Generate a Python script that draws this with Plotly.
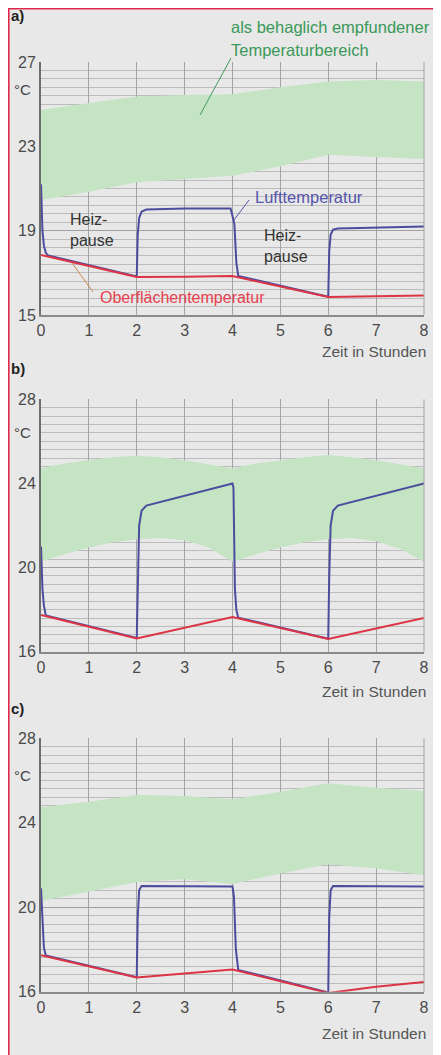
import plotly.graph_objects as go

# The page body has an 8px default margin, so the figure is drawn at (8, 8)
# inside the 441x1055 window.
OFF = 8
W, H = 441 - OFF, 1055 - OFF

# ---------------- data ----------------
band_hours = [0, 1, 2, 3, 4, 5, 6, 7, 8]
band_a_upper = [24.73, 25.04, 25.36, 25.44, 25.47, 25.80, 26.07, 26.15, 26.07]
band_a_lower = [20.45, 20.85, 21.30, 21.45, 21.60, 22.05, 22.60, 22.50, 22.40]

band_b_hours = [0, 0.5, 1, 1.5, 2, 2.5, 3, 3.5, 4, 4.5, 5, 5.5, 6, 6.5, 7, 7.5, 8]
band_b_upper = [24.72, 24.95, 25.11, 25.25, 25.32, 25.25, 25.10, 24.90, 24.72,
                24.95, 25.10, 25.25, 25.35, 25.25, 25.10, 24.90, 24.72]
band_b_lower = [20.28, 20.65, 20.95, 21.20, 21.35, 21.40, 21.30, 20.95, 20.28,
                20.65, 20.95, 21.20, 21.35, 21.40, 21.25, 20.90, 20.28]

band_c_upper = [24.73, 25.00, 25.31, 25.27, 25.11, 25.47, 25.87, 25.66, 25.50]
band_c_lower = [20.30, 20.73, 21.20, 21.32, 21.10, 21.60, 22.04, 21.84, 21.52]

air_a_hours = [0, 0.03, 0.06, 0.10, 0.15, 2.0, 2.02, 2.05, 2.10, 2.20, 3.0, 3.96,
               4.0, 4.04, 4.08, 4.12, 6.0, 6.02, 6.05, 6.10, 6.20, 7.0, 8.0]
air_a_temp = [21.2, 19.0, 18.3, 17.95, 17.82, 16.83, 18.8, 19.6, 19.9, 20.0, 20.05, 20.05,
              19.7, 19.3, 17.5, 16.85, 15.87, 18.0, 18.8, 19.05, 19.10, 19.15, 19.20]
surf_a_hours = [0, 2, 3, 4, 6, 7, 8]
surf_a_temp = [17.85, 16.80, 16.82, 16.85, 15.85, 15.90, 15.92]

air_b_hours = [0, 0.03, 0.06, 0.10, 2.0, 2.02, 2.05, 2.10, 2.20, 4.0, 4.02, 4.05,
               4.08, 4.12, 6.0, 6.02, 6.05, 6.10, 6.20, 8.0]
air_b_temp = [21.0, 19.0, 18.2, 17.72, 16.65, 19.5, 22.0, 22.7, 22.95, 24.0, 23.8, 19.0,
              18.0, 17.62, 16.62, 19.5, 22.0, 22.7, 22.95, 24.0]
surf_b_hours = [0, 2, 4, 6, 8]
surf_b_temp = [17.75, 16.63, 17.65, 16.60, 17.60]

air_c_hours = [0, 0.03, 0.06, 0.10, 2.0, 2.02, 2.05, 2.10, 3.0, 4.0, 4.03, 4.07,
               4.12, 6.0, 6.02, 6.05, 6.10, 7.0, 8.0]
air_c_temp = [20.9, 19.0, 18.1, 17.72, 16.69, 19.5, 20.8, 21.0, 20.98, 20.98, 20.5, 18.0,
              17.03, 15.96, 19.5, 20.8, 21.0, 21.0, 20.98]
surf_c_hours = [0, 2, 3, 4, 6, 7, 8]
surf_c_temp = [17.73, 16.67, 16.86, 17.05, 15.94, 16.23, 16.46]

x_ticks = [0, 1, 2, 3, 4, 5, 6, 7, 8]
y_ticks_a = [15, 19, 23, 27]
y_ticks_bc = [16, 20, 24, 28]

# ---------------- style ----------------
BG = "#e8e8e8"
GREEN_FILL = "#c4e4c4"
BLUE = "#4c4c9e"
RED = "#dc3444"
FONT = "Liberation Sans, Arial, sans-serif"


def px_x(p):
    return (p - OFF) / W


def px_y(p):
    return 1 - (p - OFF) / H


X_DOM = [px_x(41), px_x(424)]
Y_DOMS = [[px_y(315), px_y(62)], [px_y(651.7), px_y(399.3)], [px_y(991.7), px_y(738.3)]]
RANGES = [[15, 27], [16, 28], [16, 28]]
YTICKS = [y_ticks_a, y_ticks_bc, y_ticks_bc]

fig = go.Figure()

panels = [
    (band_hours, band_a_lower, band_a_upper, air_a_hours, air_a_temp, surf_a_hours, surf_a_temp),
    (band_b_hours, band_b_lower, band_b_upper, air_b_hours, air_b_temp, surf_b_hours, surf_b_temp),
    (band_hours, band_c_lower, band_c_upper, air_c_hours, air_c_temp, surf_c_hours, surf_c_temp),
]

for i, (bh, bl, bu, ah, at, sh, st) in enumerate(panels):
    xa = "x" if i == 0 else f"x{i+1}"
    ya = "y" if i == 0 else f"y{i+1}"
    fig.add_trace(go.Scatter(x=bh, y=bl, mode="lines", line=dict(width=0, color=GREEN_FILL),
                             xaxis=xa, yaxis=ya, showlegend=False, hoverinfo="skip"))
    fig.add_trace(go.Scatter(x=bh, y=bu, mode="lines", line=dict(width=0, color=GREEN_FILL),
                             fill="tonexty", fillcolor=GREEN_FILL,
                             xaxis=xa, yaxis=ya, showlegend=False, hoverinfo="skip"))
    fig.add_trace(go.Scatter(x=ah, y=at, mode="lines", line=dict(width=2, color=BLUE),
                             xaxis=xa, yaxis=ya, showlegend=False, name="Lufttemperatur"))
    fig.add_trace(go.Scatter(x=sh, y=st, mode="lines", line=dict(width=2, color=RED),
                             xaxis=xa, yaxis=ya, showlegend=False, name="Oberflächentemperatur"))

layout = dict(
    width=W, height=H,
    margin=dict(l=0, r=0, t=0, b=0, autoexpand=False),
    paper_bgcolor="white",
    plot_bgcolor=BG,
    font=dict(family=FONT, size=16, color="#444444"),
    showlegend=False,
)

for i in range(3):
    sx = "" if i == 0 else str(i + 1)
    layout[f"xaxis{sx}"] = dict(
        domain=X_DOM, range=[0, 8], anchor=f"y{sx}", automargin=False,
        tickmode="array", tickvals=x_ticks, ticktext=[str(v) for v in x_ticks],
        showgrid=True, gridcolor="#a4a4a4", gridwidth=1,
        showline=True, linecolor="#8a8a8a", linewidth=1.5,
        zeroline=False, ticks="", tickfont=dict(size=16, color="#4a4a4a"),
    )
    lo, hi = RANGES[i]
    layout[f"yaxis{sx}"] = dict(
        domain=Y_DOMS[i], range=[lo, hi], anchor=f"x{sx}", automargin=False,
        tickmode="array", tickvals=YTICKS[i], ticktext=[str(v) for v in YTICKS[i]],
        showgrid=True, gridcolor="#a0a0a0", gridwidth=1,
        minor=dict(dtick=0.4, tick0=lo, showgrid=True, gridcolor="#bcbcbc", gridwidth=1),
        showline=True, linecolor="#6e6e6e", linewidth=2,
        zeroline=False, ticks="", tickfont=dict(size=16, color="#4a4a4a"),
    )

fig.update_layout(**layout)

shapes = [
    dict(type="rect", xref="paper", yref="paper", x0=0, x1=1, y0=0, y1=1,
         fillcolor=BG, line=dict(width=0), layer="below"),
    dict(type="line", xref="paper", yref="paper", x0=0, x1=1, y0=1 - 0.8 / H, y1=1 - 0.8 / H,
         line=dict(color="#e0284c", width=1.6)),
    dict(type="line", xref="paper", yref="paper", x0=0.8 / W, x1=0.8 / W, y0=0, y1=1,
         line=dict(color="#e0284c", width=1.6)),
]
for i in range(3):
    shapes.append(dict(type="line", xref="paper", yref="paper", x0=X_DOM[1], x1=X_DOM[1],
                       y0=Y_DOMS[i][0], y1=Y_DOMS[i][1], line=dict(color="#a4a4a4", width=1)))
shapes += [
    dict(type="line", xref="paper", yref="paper", x0=px_x(231), y0=px_y(58), x1=px_x(200), y1=px_y(115),
         line=dict(color="#3f9a5c", width=1)),
    dict(type="line", xref="paper", yref="paper", x0=px_x(249), y0=px_y(200), x1=px_x(234), y1=px_y(220),
         line=dict(color="#5555aa", width=1)),
    dict(type="line", xref="paper", yref="paper", x0=px_x(93), y0=px_y(292), x1=px_x(72), y1=px_y(263),
         line=dict(color="#c88a50", width=1)),
]

ann = []


def text(t, x, y, xanchor="left", size=16, color="#333333", bold=False, align="left"):
    if bold:
        t = f"<b>{t}</b>"
    ann.append(dict(text=t, x=px_x(x), y=px_y(y), xref="paper", yref="paper",
                    xanchor=xanchor, yanchor="middle", showarrow=False, align=align,
                    font=dict(family=FONT, size=size, color=color)))


text("a)", 9, 16, size=15, color="#222222", bold=True)
text("b)", 9, 368, size=15, color="#222222", bold=True)
text("c)", 9, 708, size=15, color="#222222", bold=True)
for y in (90, 433, 775):
    text("°C", 12, y, size=15, color="#444444")
for y in (351.7, 691.7, 1033):
    text("Zeit in Stunden", 428, y, xanchor="right", size=15.5, color="#555555")

text("als behaglich empfundener", 229, 27, size=16.5, color="#3a9858")
text("Temperaturbereich", 229, 50, size=16.5, color="#3a9858")
text("Lufttemperatur", 253, 197, size=16.5, color="#5555aa")
text("Heiz-<br>pause", 68, 230, size=16, color="#333333")
text("Heiz-<br>pause", 262, 246, size=16, color="#333333")
text("Oberflächentemperatur", 98, 297, size=16, color="#e8404e")

fig.update_layout(shapes=shapes, annotations=ann)

fig.write_html("out.html")
